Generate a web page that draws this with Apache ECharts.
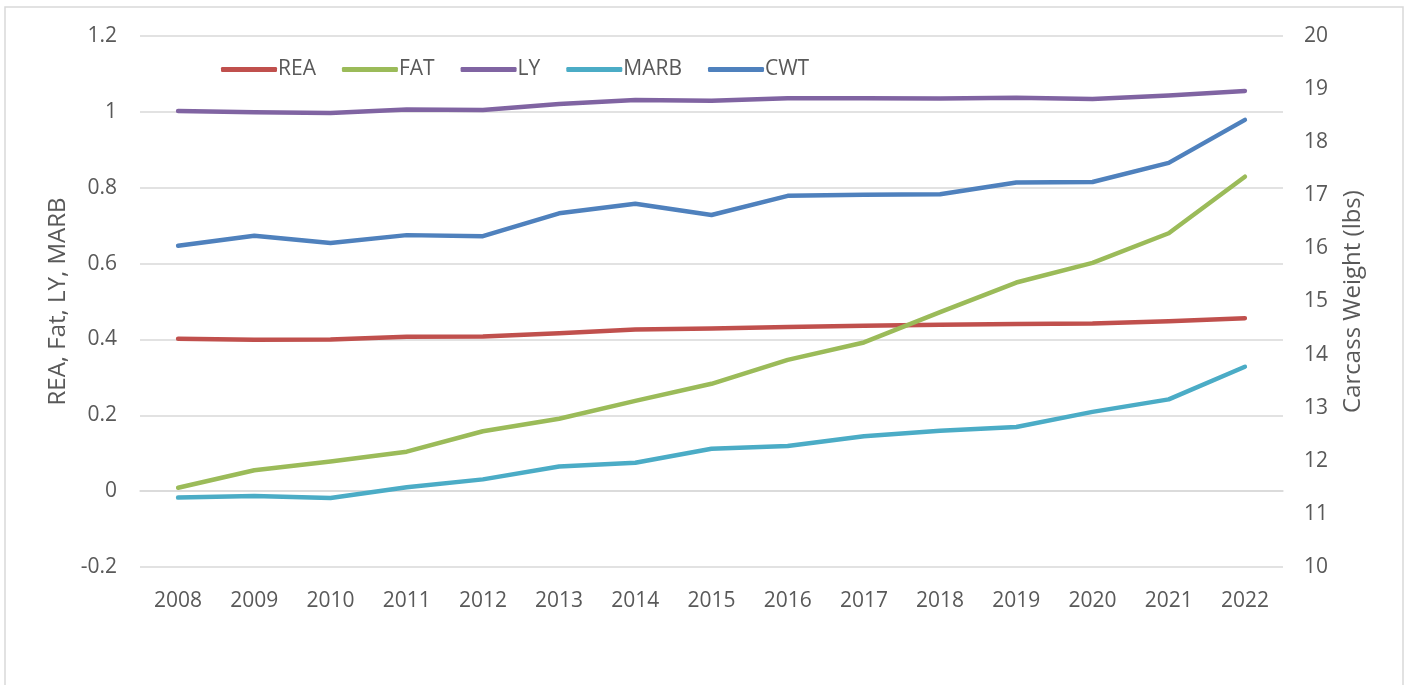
<!DOCTYPE html>
<html>
<head>
<meta charset="utf-8">
<title>Carcass EPD trends</title>
<script src="https://cdn.jsdelivr.net/npm/echarts@6/dist/echarts.min.js"></script>
<style>
  html, body { margin: 0; padding: 0; background: #fff; }
  #chart-container { width: 1411px; height: 685px; }
</style>
</head>
<body>
<div id="chart-container"></div>
<script>
const years = ["2008", "2009", "2010", "2011", "2012", "2013", "2014", "2015",
  "2016", "2017", "2018", "2019", "2020", "2021", "2022"];

const reaData = [0.402, 0.399, 0.400, 0.407, 0.408, 0.416, 0.426, 0.429,
  0.433, 0.436, 0.439, 0.441, 0.442, 0.448, 0.456];
const fatData = [0.009, 0.055, 0.078, 0.104, 0.158, 0.191, 0.238, 0.283,
  0.346, 0.392, 0.472, 0.550, 0.602, 0.680, 0.829];
const lyData = [1.002, 0.999, 0.997, 1.006, 1.005, 1.021, 1.031, 1.029,
  1.036, 1.036, 1.035, 1.037, 1.034, 1.043, 1.055];
const marbData = [-0.017, -0.013, -0.018, 0.010, 0.031, 0.065, 0.075, 0.112,
  0.119, 0.145, 0.159, 0.169, 0.209, 0.242, 0.328];
const cwtData = [16.05, 16.24, 16.10, 16.25, 16.23, 16.66, 16.84, 16.63,
  16.99, 17.01, 17.02, 17.24, 17.25, 17.61, 18.42];

const seriesNames = ["REA", "FAT", "LY", "MARB", "CWT"];
const seriesColors = ["#C0504D", "#9BBB59", "#8064A2", "#4BACC6", "#4F81BD"];

const textColor = "#595959";
const fontFamily = "'Open Sans', sans-serif";

const dom = document.getElementById("chart-container");
const myChart = echarts.init(dom, null, { renderer: "canvas" });

function lineSeries(name, data, color, axisIndex) {
  return {
    name: name,
    type: "line",
    yAxisIndex: axisIndex,
    data: data,
    symbol: "none",
    smooth: false,
    color: color,
    lineStyle: { width: 4.5, color: color, cap: "round", join: "round" },
    emphasis: { disabled: true },
  };
}

const option = {
  backgroundColor: "#fff",
  animation: false,
  textStyle: { fontFamily: fontFamily, color: textColor },
  graphic: [
    {
      type: "rect",
      shape: { x: 5, y: 7, width: 1398, height: 700 },
      style: { fill: "none", stroke: "#d9d9d9", lineWidth: 1.5 },
      silent: true,
    },
  ],
  grid: { left: 140, right: 128, top: 36, bottom: 118 },
  legend: {
    left: 216,
    top: 54,
    icon: "roundRect",
    itemWidth: 56,
    itemHeight: 5,
    itemGap: 26,
    data: seriesNames,
    textStyle: { fontSize: 21, color: textColor, fontFamily: fontFamily, padding: [0, 0, 0, -4] },
  },
  xAxis: {
    type: "category",
    data: years,
    boundaryGap: true,
    axisLine: { show: true, lineStyle: { color: "#d9d9d9", width: 1.5 } },
    axisTick: { show: false },
    axisLabel: { fontSize: 21, color: textColor, margin: 24, fontFamily: fontFamily },
  },
  yAxis: [
    {
      type: "value",
      min: -0.2,
      max: 1.2,
      interval: 0.2,
      name: "REA, Fat, LY, MARB",
      nameLocation: "middle",
      nameGap: 70,
      nameTextStyle: { fontSize: 24, color: textColor, fontFamily: fontFamily },
      axisLine: { show: false },
      axisTick: { show: false },
      axisLabel: {
        fontSize: 21,
        color: textColor,
        margin: 23,
        fontFamily: fontFamily,
        formatter: (v) => String(Math.round(v * 10) / 10),
      },
      splitLine: { show: true, lineStyle: { color: "#d9d9d9", width: 1.5 } },
    },
    {
      type: "value",
      min: 10,
      max: 20,
      interval: 1,
      name: "Carcass Weight (lbs)",
      nameLocation: "middle",
      nameGap: 58,
      nameTextStyle: { fontSize: 24, color: textColor, fontFamily: fontFamily },
      axisLine: { show: false },
      axisTick: { show: false },
      axisLabel: { fontSize: 21, color: textColor, margin: 21, fontFamily: fontFamily },
      splitLine: { show: false },
    },
  ],
  series: [
    lineSeries("REA", reaData, seriesColors[0], 0),
    lineSeries("FAT", fatData, seriesColors[1], 0),
    lineSeries("LY", lyData, seriesColors[2], 0),
    lineSeries("MARB", marbData, seriesColors[3], 0),
    lineSeries("CWT", cwtData, seriesColors[4], 1),
  ],
};

myChart.setOption(option);
window.addEventListener("resize", myChart.resize);
</script>
</body>
</html>
